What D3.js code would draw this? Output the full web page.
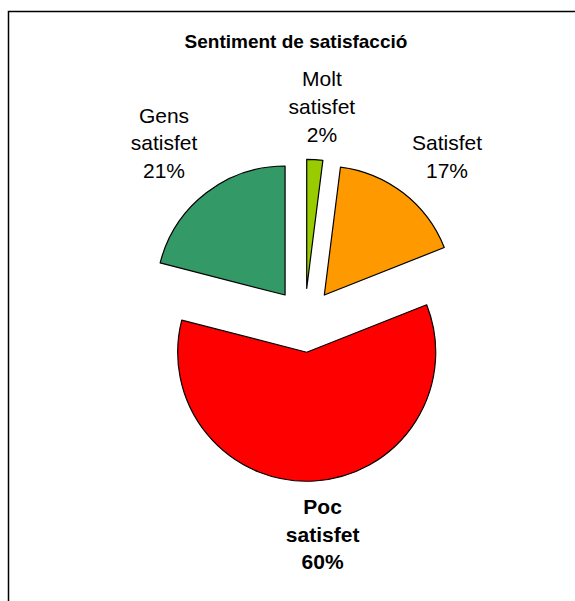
<!DOCTYPE html>
<html lang="ca">
<head>
  <meta charset="UTF-8" />
  <title>Sentiment de satisfacció</title>
  <script src="https://d3js.org/d3.v7.min.js"></script>
  <style>
    body {
      margin: 0;
      padding: 0;
      background: #fff;
      font-family: 'Liberation Sans', Arial, sans-serif;
    }
    svg { display: block; }
  </style>
</head>
<body>
  <div id="chart"></div>

  <script>
    // Data
    const categories = ["Molt satisfet", "Satisfet", "Poc satisfet", "Gens satisfet"];
    const values = [2, 17, 60, 21];
    const colors = ["#99CC00", "#FF9900", "#FF0000", "#339966"];
    const boldLabels = ["Poc satisfet"];
    const title = "Sentiment de satisfacció";

    const width = 575, height = 601;
    const cx = 304.7, cy = 320.3;
    const radius = 129;
    const explode = 32;
    const labelGap = 14;     // from the exploded rim to the label anchor
    const lineHeight = 27.7;

    const svg = d3.select("#chart")
      .append("svg")
      .attr("width", width)
      .attr("height", height);

    // chart border (runs off the right and bottom of the picture)
    svg.append("rect")
      .attr("x", 8.5)
      .attr("y", 11.5)
      .attr("width", 700)
      .attr("height", 700)
      .attr("fill", "#fff")
      .attr("stroke", "#000")
      .attr("stroke-width", 1.5);

    svg.append("text")
      .attr("x", 296)
      .attr("y", 48)
      .attr("text-anchor", "middle")
      .style("font-size", "19px")
      .style("font-weight", "bold")
      .text(title);

    const total = d3.sum(values);
    const pie = d3.pie().sort(null).value(d => d);
    const arcs = pie(values);
    const arc = d3.arc().innerRadius(0).outerRadius(radius);

    const g = svg.append("g").attr("transform", `translate(${cx},${cy})`);

    const dirOf = d => {
      const a = (d.startAngle + d.endAngle) / 2;
      return [Math.sin(a), -Math.cos(a)];
    };

    g.selectAll("path")
      .data(arcs)
      .enter()
      .append("path")
      .attr("d", arc)
      .attr("transform", d => {
        const [dx, dy] = dirOf(d);
        return `translate(${dx * explode},${dy * explode})`;
      })
      .attr("fill", (d, i) => colors[i])
      .attr("stroke", "#000")
      .attr("stroke-width", 1.2)
      .attr("stroke-linejoin", "round");

    const clamp01 = v => Math.max(0, Math.min(1, v));
    const labelR = radius + explode + labelGap;

    arcs.forEach((d, i) => {
      const name = categories[i];
      const lines = name.split(" ").concat([Math.round(values[i] / total * 100) + "%"]);
      const bold = boldLabels.includes(name);

      const t = g.append("text")
        .attr("text-anchor", "middle")
        .style("font-size", "21px")
        .style("font-weight", bold ? "bold" : "normal");

      lines.forEach((line, k) => {
        t.append("tspan")
          .attr("x", 0)
          .attr("dy", k === 0 ? 0 : lineHeight)
          .text(line);
      });

      // anchor point just outside the slice; the box hangs off it on the far side
      const bb = t.node().getBBox();
      const [ux, uy] = dirOf(d);
      const ax = ux * labelR, ay = uy * labelR;
      const fx = clamp01(0.5 - 1.5 * ux);
      const fy = clamp01(0.5 - 1.5 * uy);
      const ox = ax - (bb.x + bb.width * fx);
      const oy = ay - (bb.y + bb.height * fy);
      t.attr("transform", `translate(${ox},${oy})`);
    });
  </script>
</body>
</html>
